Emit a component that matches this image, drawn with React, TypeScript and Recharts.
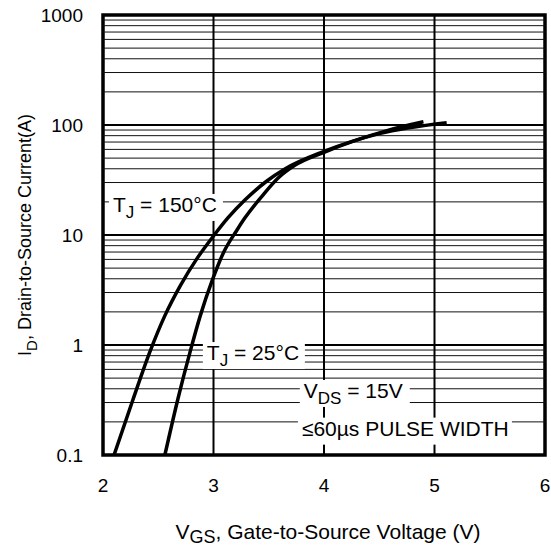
import React from 'react';
import {
    Line,
    LineChart,
    ReferenceArea,
    ReferenceDot,
    ReferenceLine,
    XAxis,
    YAxis
} from 'recharts';

// V_GS (V) and I_D (A)
const vgs150 = [2.1, 2.27, 2.425, 2.56, 2.7, 2.85, 3.0, 3.13, 3.284, 3.48, 3.646, 4.0, 4.5, 5.11];
const id150 = [0.1, 0.316, 0.87, 1.85, 3.47, 6.1, 9.8, 14.3, 20.8, 30.8, 39.8, 57.5, 83.5, 104.7];

const vgs25 = [2.56, 2.68, 2.79, 2.88, 2.99, 3.09, 3.21, 3.28, 3.44, 3.585, 3.736, 4.0, 4.57, 4.9];
const id25 = [0.1, 0.33, 0.88, 1.84, 3.9, 6.9, 11, 14.1, 22.6, 33, 43, 56.5, 89, 107];

const xTicks = [2, 3, 4, 5, 6];
const yTicks = [0.1, 1, 10, 100, 1000];
const mantissas = [2, 3, 4, 5, 6, 7, 8, 9];
const decades = [0.1, 1, 10, 100];

const labels = [
    { x: 2.09, y: 16.2, main: 'T', sub: 'J', rest: ' = 150°C', w: 114 },
    { x: 2.94, y: 0.73, main: 'T', sub: 'J', rest: ' = 25°C', w: 102 },
    { x: 3.817, y: 0.33, main: 'V', sub: 'DS', rest: ' = 15V', w: 110 },
    { x: 3.8, y: 0.15, main: '≤60µs PULSE WIDTH', sub: '', rest: '', w: 214 },
];

const FONT = '"Liberation Sans", Arial, Helvetica, sans-serif';

const series150 = vgs150.map((v, i) => ({ vgs: v, id: id150[i] }));
const series25 = vgs25.map((v, i) => ({ vgs: v, id: id25[i] }));
const minorLines = decades.flatMap(d => mantissas.map(m => +(m * d).toPrecision(3)));
const majorLines = [1, 10, 100];
const verticalLines = [3, 4, 5];

const XTick = ({ x, y, payload }: any) => (
    <text x={x} y={y + 37} textAnchor="middle" fontSize={19} fontFamily={FONT} fill="#000">
        {payload.value}
    </text>
);

const YTick = ({ x, y, payload }: any) => (
    <text x={x - 20} y={y + 7} textAnchor="end" fontSize={19} fontFamily={FONT} fill="#000">
        {payload.value}
    </text>
);

const makeLabel = (l: any) => (props: any) => {
    const { cx, cy } = props;
    return (
        <g>
            <rect x={cx - 4} y={cy - 18} width={l.w} height={27} fill="#fff" />
            <text x={cx} y={cy} fontSize={21} fontFamily={FONT} fill="#000">
                <tspan>{l.main}</tspan>
                {l.sub && <tspan dy={6} fontSize={17}>{l.sub}</tspan>}
                {l.rest && <tspan dy={l.sub ? -6 : 0} fontSize={21}>{l.rest}</tspan>}
            </text>
        </g>
    );
};

const XTitle = ({ viewBox }: any) => (
    <text x={viewBox.x + viewBox.width / 2 + 4} y={539} textAnchor="middle" fontSize={21} fontFamily={FONT} fill="#000">
        <tspan>V</tspan>
        <tspan dy={4} fontSize={18}>GS</tspan>
        <tspan dy={-4}>, Gate-to-Source Voltage (V)</tspan>
    </text>
);

const YTitle = ({ viewBox }: any) => {
    const cx = 31;
    const cy = viewBox.y + viewBox.height / 2;
    return (
        <text x={cx} y={cy} transform={`rotate(-90 ${cx} ${cy})`} textAnchor="middle" fontSize={18} fontFamily={FONT} fill="#000">
            <tspan>I</tspan>
            <tspan dy={6} fontSize={15}>D</tspan>
            <tspan dy={-6}>, Drain-to-Source Current(A)</tspan>
        </text>
    );
};

const App: React.FC = () => {
    return (
        <div style={{ position: 'absolute', left: 0, top: 0, background: '#fff' }}>
            <LineChart width={551} height={548} margin={{ top: 15, right: 6, left: 0, bottom: 0 }}>
                <XAxis
                    dataKey="vgs"
                    type="number"
                    domain={[2, 6]}
                    ticks={xTicks}
                    axisLine={false}
                    tickLine={false}
                    tickSize={0}
                    tickMargin={0}
                    height={93}
                    tick={<XTick />}
                    allowDataOverflow
                    label={<XTitle />}
                />
                <YAxis
                    dataKey="id"
                    type="number"
                    scale="log"
                    domain={[0.1, 1000]}
                    ticks={yTicks}
                    axisLine={false}
                    tickLine={false}
                    tickSize={0}
                    tickMargin={0}
                    width={103}
                    tick={<YTick />}
                    allowDataOverflow
                    label={<YTitle />}
                />

                {minorLines.map(v => (
                    <ReferenceLine key={'m' + v} y={v} stroke="#111" strokeWidth={1} />
                ))}
                {majorLines.map(v => (
                    <ReferenceLine key={'M' + v} y={v} stroke="#000" strokeWidth={2.2} />
                ))}
                {verticalLines.map(v => (
                    <ReferenceLine key={'v' + v} x={v} stroke="#000" strokeWidth={2} />
                ))}

                {labels.map((l, i) => (
                    <ReferenceDot key={'l' + i} x={l.x} y={l.y} r={0} shape={makeLabel(l)} />
                ))}

                <Line
                    data={series150}
                    dataKey="id"
                    type="monotone"
                    stroke="#000"
                    strokeWidth={3.5}
                    dot={false}
                    isAnimationActive={false}
                />
                <Line
                    data={series25}
                    dataKey="id"
                    type="monotone"
                    stroke="#000"
                    strokeWidth={3.5}
                    dot={false}
                    isAnimationActive={false}
                />

                <ReferenceArea x1={2} x2={6} y1={0.1} y2={1000} fill="none" stroke="#000" strokeWidth={3.5} ifOverflow="visible" />
            </LineChart>
        </div>
    );
};

export default App;
